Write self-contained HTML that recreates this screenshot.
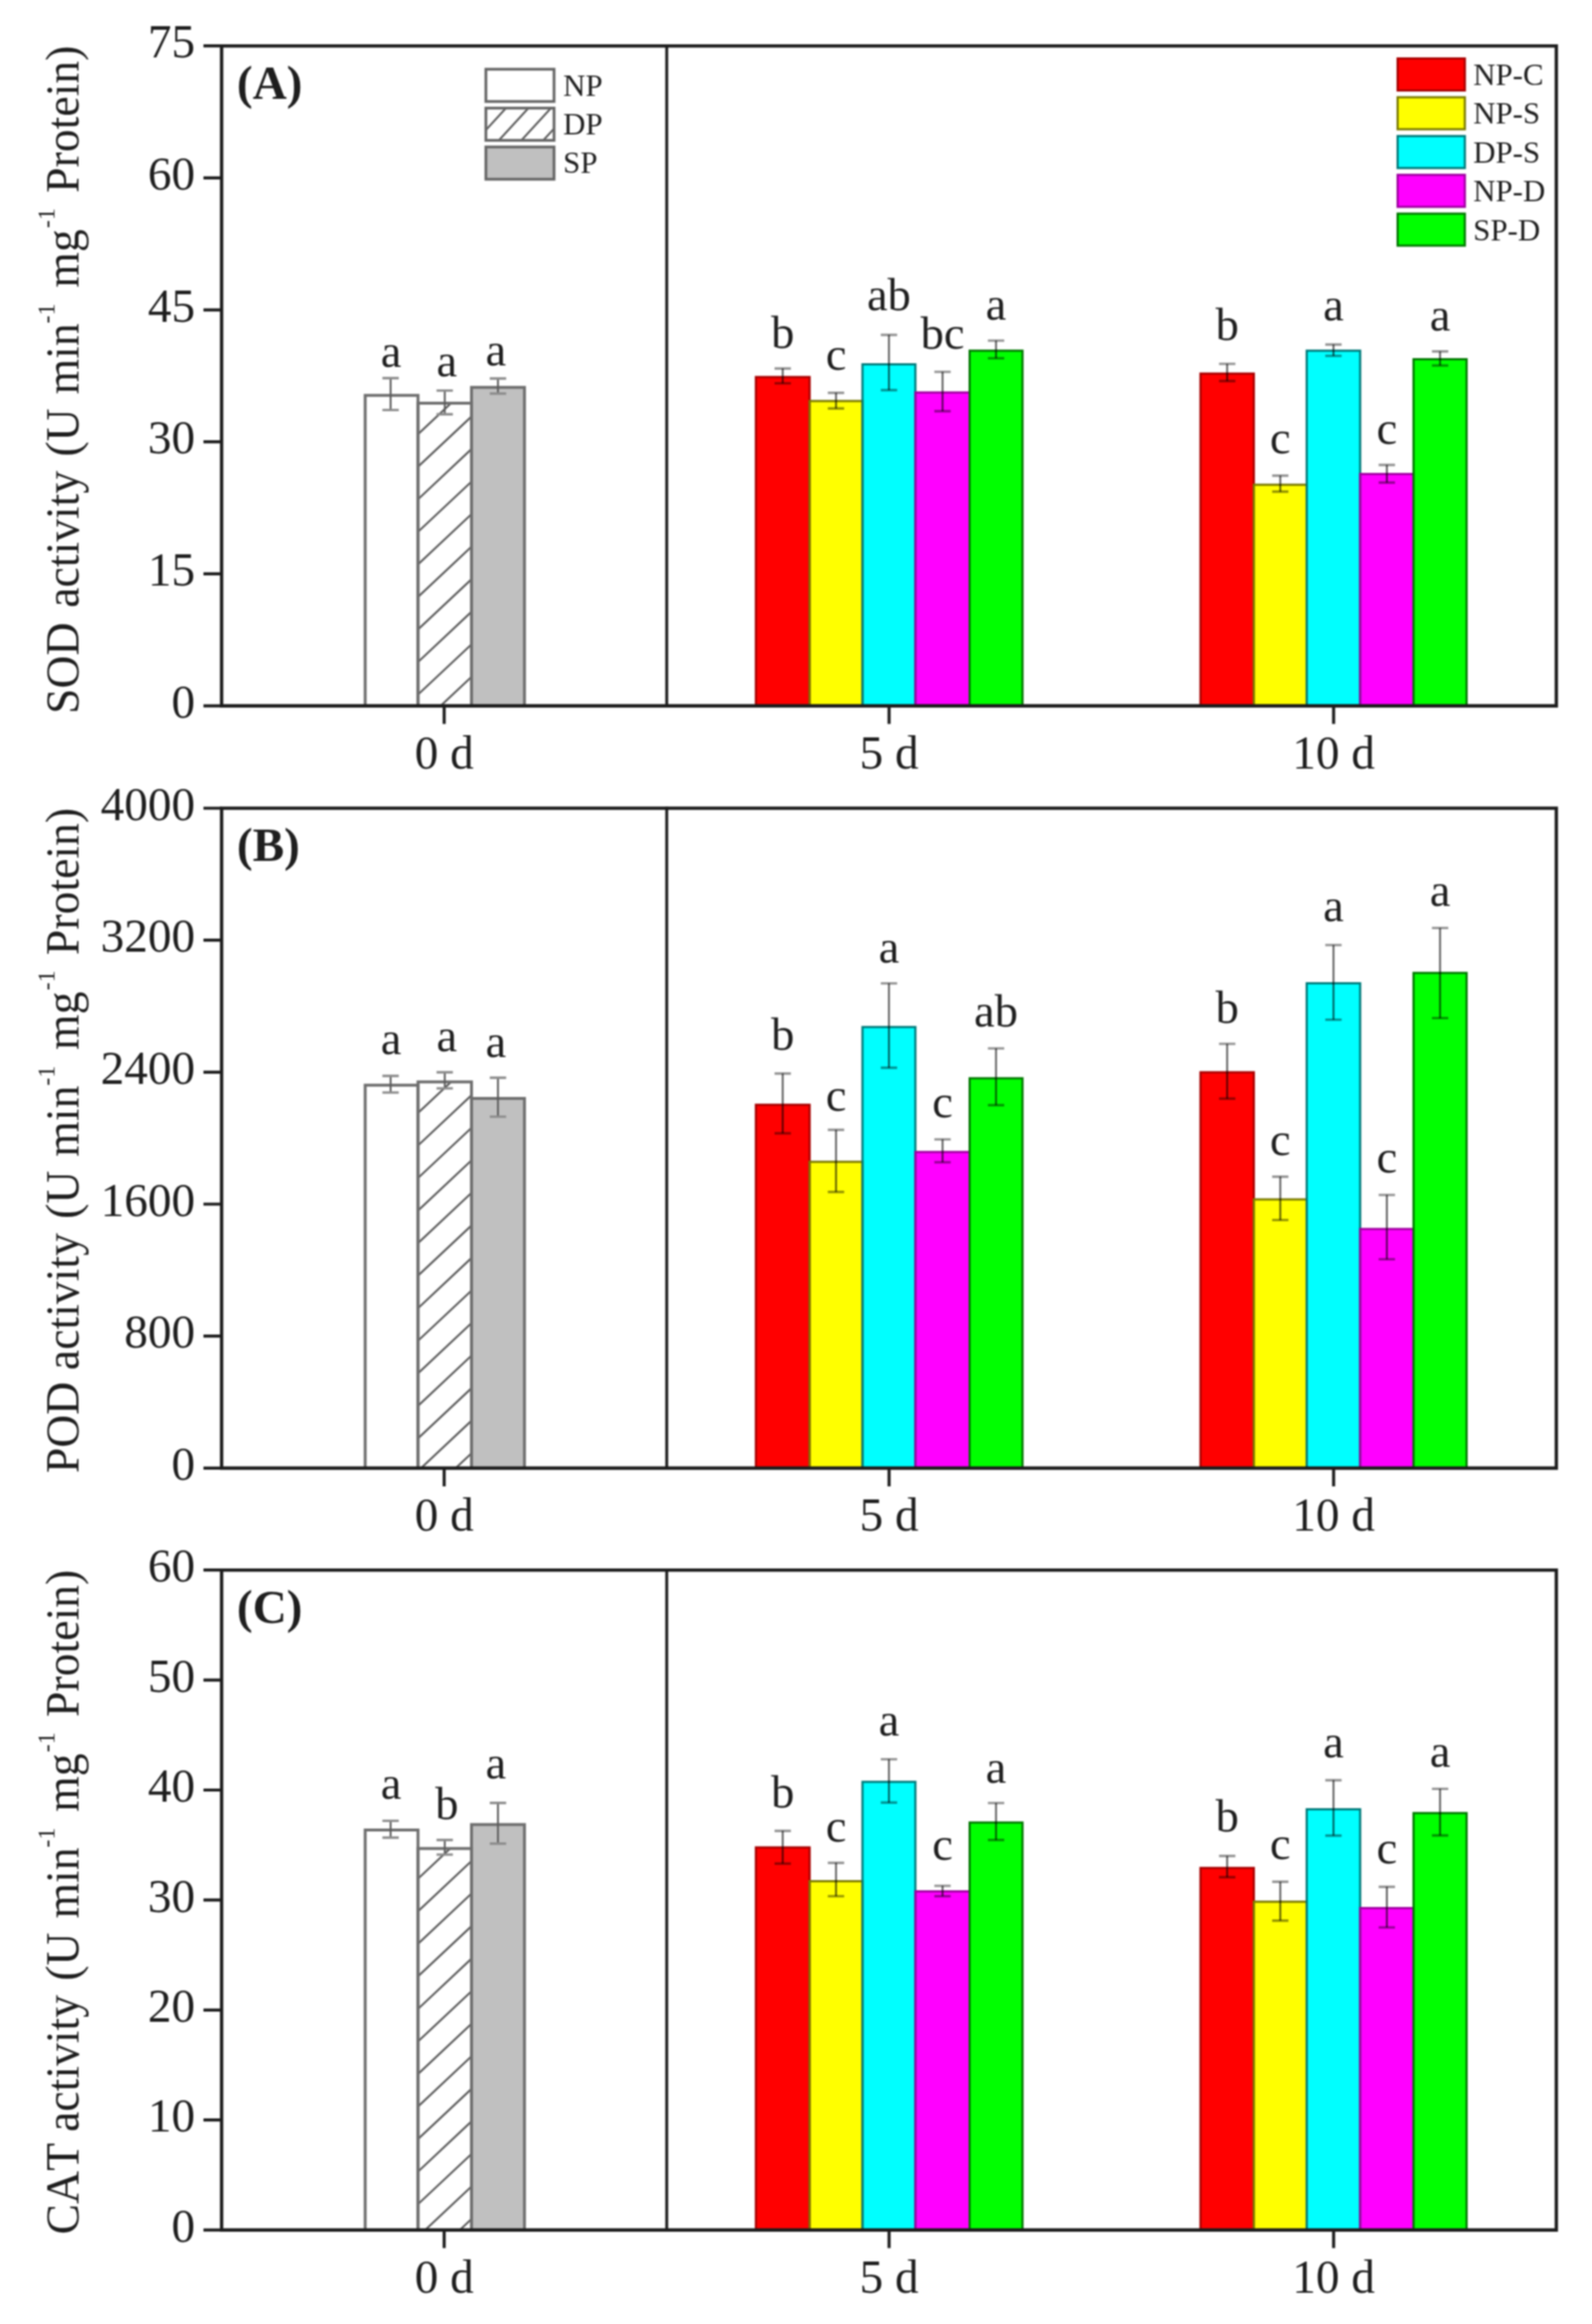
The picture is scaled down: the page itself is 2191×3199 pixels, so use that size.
<!DOCTYPE html>
<html lang="en"><head><meta charset="utf-8"><title>Antioxidant enzyme activities</title>
<style>html,body{margin:0;padding:0;background:#fff}svg{display:block;filter:blur(0.8px)}text{font-family:"Liberation Serif","Times New Roman",serif;fill:#1e1e1e;font-kerning:none}</style>
</head><body>
<svg width="2191" height="3199" viewBox="0 0 2191 3199">
<rect width="2191" height="3199" fill="#fff"/>
<g font-size="65">
<clipPath id="hc0"><rect x="575.3" y="555.1" width="73.6" height="416.5"/></clipPath>
<rect x="502.6" y="544.3" width="72.7" height="427.3" fill="#ffffff"/>
<rect x="575.3" y="555.1" width="73.6" height="416.5" fill="#ffffff"/>
<rect x="648.9" y="533.2" width="72.9" height="438.4" fill="#c0c0c0"/>
<path clip-path="url(#hc0)" d="M575.3 508.1L648.9 438.9M575.3 552.9L648.9 483.7M575.3 597.7L648.9 528.5M575.3 642.5L648.9 573.3M575.3 687.3L648.9 618.1M575.3 732.1L648.9 662.9M575.3 776.9L648.9 707.7M575.3 821.7L648.9 752.5M575.3 866.5L648.9 797.3M575.3 911.3L648.9 842.1M575.3 956.1L648.9 886.9M575.3 1000.9L648.9 931.7M575.3 1045.7L648.9 976.5" stroke="#5e5e5e" stroke-width="2.8" fill="none"/>
<path d="M502.6 971.6V544.3H575.3V971.6" stroke="#6e6e6e" stroke-width="4" fill="none"/>
<path d="M575.3 971.6V555.1H648.9V971.6" stroke="#6e6e6e" stroke-width="4" fill="none"/>
<path d="M648.9 971.6V533.2H721.8V971.6" stroke="#6e6e6e" stroke-width="4" fill="none"/>
<rect x="1040.3" y="518.9" width="73.9" height="452.7" fill="#ff0000"/>
<rect x="1114.2" y="551.9" width="72.8" height="419.7" fill="#ffff00"/>
<rect x="1187" y="501.6" width="72.8" height="470" fill="#00ffff"/>
<rect x="1259.8" y="540.3" width="74.7" height="431.3" fill="#ff00ff"/>
<rect x="1334.5" y="482.8" width="72.7" height="488.8" fill="#00ff00"/>
<path d="M1040.3 971.6V518.9H1114.2V971.6" stroke="#a80000" stroke-width="3" fill="none"/>
<path d="M1114.2 971.6V551.9H1187V971.6" stroke="#7a7a00" stroke-width="3" fill="none"/>
<path d="M1187 971.6V501.6H1259.8V971.6" stroke="#007a7a" stroke-width="3" fill="none"/>
<path d="M1259.8 971.6V540.3H1334.5V971.6" stroke="#a000a0" stroke-width="3" fill="none"/>
<path d="M1334.5 971.6V482.8H1407.2V971.6" stroke="#007800" stroke-width="3" fill="none"/>
<rect x="1652.2" y="514.2" width="73.4" height="457.4" fill="#ff0000"/>
<rect x="1725.6" y="667.2" width="72.8" height="304.4" fill="#ffff00"/>
<rect x="1798.4" y="482.8" width="73.5" height="488.8" fill="#00ffff"/>
<rect x="1871.9" y="652.4" width="73.5" height="319.2" fill="#ff00ff"/>
<rect x="1945.4" y="494.4" width="73" height="477.2" fill="#00ff00"/>
<path d="M1652.2 971.6V514.2H1725.6V971.6" stroke="#a80000" stroke-width="3" fill="none"/>
<path d="M1725.6 971.6V667.2H1798.4V971.6" stroke="#7a7a00" stroke-width="3" fill="none"/>
<path d="M1798.4 971.6V482.8H1871.9V971.6" stroke="#007a7a" stroke-width="3" fill="none"/>
<path d="M1871.9 971.6V652.4H1945.4V971.6" stroke="#a000a0" stroke-width="3" fill="none"/>
<path d="M1945.4 971.6V494.4H2018.4V971.6" stroke="#007800" stroke-width="3" fill="none"/>
<path d="M537.6 520.5V564.4" stroke="#5c5c5c" stroke-width="2.6" fill="none"/>
<path d="M526.3 520.5H548.8M526.3 564.4H548.8" stroke="#8c8c8c" stroke-width="3.4" fill="none"/>
<text x="538.1" y="505.4" text-anchor="middle" font-size="64">a</text>
<path d="M612.1 537.6V570.2" stroke="#5c5c5c" stroke-width="2.6" fill="none"/>
<path d="M600.8 537.6H623.3M600.8 570.2H623.3" stroke="#8c8c8c" stroke-width="3.4" fill="none"/>
<text x="614.9" y="518" text-anchor="middle" font-size="64">a</text>
<path d="M685.3 521V541.8" stroke="#5c5c5c" stroke-width="2.6" fill="none"/>
<path d="M674.1 521H696.6M674.1 541.8H696.6" stroke="#8c8c8c" stroke-width="3.4" fill="none"/>
<text x="682.5" y="503.4" text-anchor="middle" font-size="64">a</text>
<path d="M1077.2 507.2V527.6" stroke="#000" stroke-opacity="0.62" stroke-width="2.6" fill="none"/>
<path d="M1066 507.2H1088.5M1066 527.6H1088.5" stroke="#000" stroke-opacity="0.42" stroke-width="3.4" fill="none"/>
<text x="1077.2" y="478.9" text-anchor="middle" font-size="64">b</text>
<path d="M1150.6 540.8V562.2" stroke="#000" stroke-opacity="0.62" stroke-width="2.6" fill="none"/>
<path d="M1139.3 540.8H1161.8M1139.3 562.2H1161.8" stroke="#000" stroke-opacity="0.42" stroke-width="3.4" fill="none"/>
<text x="1150.6" y="508.8" text-anchor="middle" font-size="64">c</text>
<path d="M1223.4 461V537" stroke="#000" stroke-opacity="0.62" stroke-width="2.6" fill="none"/>
<path d="M1212.2 461H1234.7M1212.2 537H1234.7" stroke="#000" stroke-opacity="0.42" stroke-width="3.4" fill="none"/>
<text x="1223.4" y="427.1" text-anchor="middle" font-size="64">ab</text>
<path d="M1297.2 511.9V566" stroke="#000" stroke-opacity="0.62" stroke-width="2.6" fill="none"/>
<path d="M1285.9 511.9H1308.4M1285.9 566H1308.4" stroke="#000" stroke-opacity="0.42" stroke-width="3.4" fill="none"/>
<text x="1297.2" y="479.8" text-anchor="middle" font-size="64">bc</text>
<path d="M1370.8 468.9V493.1" stroke="#000" stroke-opacity="0.62" stroke-width="2.6" fill="none"/>
<path d="M1359.6 468.9H1382.1M1359.6 493.1H1382.1" stroke="#000" stroke-opacity="0.42" stroke-width="3.4" fill="none"/>
<text x="1370.8" y="439.7" text-anchor="middle" font-size="64">a</text>
<path d="M1688.9 500.9V524.5" stroke="#000" stroke-opacity="0.62" stroke-width="2.6" fill="none"/>
<path d="M1677.7 500.9H1700.2M1677.7 524.5H1700.2" stroke="#000" stroke-opacity="0.42" stroke-width="3.4" fill="none"/>
<text x="1688.9" y="467.9" text-anchor="middle" font-size="64">b</text>
<path d="M1762 654.8V676.8" stroke="#000" stroke-opacity="0.62" stroke-width="2.6" fill="none"/>
<path d="M1750.8 654.8H1773.2M1750.8 676.8H1773.2" stroke="#000" stroke-opacity="0.42" stroke-width="3.4" fill="none"/>
<text x="1762" y="624.4" text-anchor="middle" font-size="64">c</text>
<path d="M1835.2 474.2V489.9" stroke="#000" stroke-opacity="0.62" stroke-width="2.6" fill="none"/>
<path d="M1823.9 474.2H1846.4M1823.9 489.9H1846.4" stroke="#000" stroke-opacity="0.42" stroke-width="3.4" fill="none"/>
<text x="1835.2" y="441.2" text-anchor="middle" font-size="64">a</text>
<path d="M1908.7 640V664.3" stroke="#000" stroke-opacity="0.62" stroke-width="2.6" fill="none"/>
<path d="M1897.4 640H1919.9M1897.4 664.3H1919.9" stroke="#000" stroke-opacity="0.42" stroke-width="3.4" fill="none"/>
<text x="1908.7" y="610.9" text-anchor="middle" font-size="64">c</text>
<path d="M1981.9 483.7V503.1" stroke="#000" stroke-opacity="0.62" stroke-width="2.6" fill="none"/>
<path d="M1970.7 483.7H1993.2M1970.7 503.1H1993.2" stroke="#000" stroke-opacity="0.42" stroke-width="3.4" fill="none"/>
<text x="1981.9" y="455.4" text-anchor="middle" font-size="64">a</text>
<path d="M305 63.2H2141.9V971.6H305Z" stroke="#1c1c1c" stroke-width="4.6" fill="none" stroke-linejoin="miter"/>
<path d="M917.6 61.2V971.6" stroke="#1c1c1c" stroke-width="4" fill="none"/>
<text x="268.5" y="987.8" text-anchor="end">0</text>
<text x="268.5" y="806.1" text-anchor="end">15</text>
<text x="268.5" y="624.4" text-anchor="end">30</text>
<text x="268.5" y="442.8" text-anchor="end">45</text>
<text x="268.5" y="261.1" text-anchor="end">60</text>
<text x="268.5" y="79.4" text-anchor="end">75</text>
<path d="M280 971.6H305M280 789.9H305M280 608.2H305M280 426.6H305M280 244.9H305M280 63.2H305M611.3 971.6V996.6M1223.6 971.6V996.6M1835.4 971.6V996.6" stroke="#1c1c1c" stroke-width="4.2" fill="none"/>
<text x="611.3" y="1057.6" text-anchor="middle">0 d</text>
<text x="1223.6" y="1057.6" text-anchor="middle">5 d</text>
<text x="1835.4" y="1057.6" text-anchor="middle">10 d</text>
<text x="326" y="135.7" font-weight="bold">(A)</text>
<text transform="translate(108 979) rotate(-90) scale(0.968 1)" xml:space="preserve"><tspan x="-3.8" y="0">SOD</tspan> <tspan x="147.1" y="0">activity</tspan> <tspan x="362.2" y="0">(U</tspan> <tspan x="450.6" y="0">min</tspan> <tspan x="551.4" y="-33" font-size="34">-1</tspan> <tspan x="602.3" y="0">mg</tspan> <tspan x="687.1" y="-33" font-size="34">-1</tspan> <tspan x="737.2" y="0">Protein)</tspan></text>
</g>
<g font-size="65">
<clipPath id="hc1"><rect x="575.3" y="1489.3" width="73.6" height="531.6"/></clipPath>
<rect x="502.6" y="1493.8" width="72.7" height="527.1" fill="#ffffff"/>
<rect x="575.3" y="1489.3" width="73.6" height="531.6" fill="#ffffff"/>
<rect x="648.9" y="1511.9" width="72.9" height="509" fill="#c0c0c0"/>
<path clip-path="url(#hc1)" d="M575.3 1442.4L648.9 1373.2M575.3 1487.2L648.9 1418M575.3 1532L648.9 1462.8M575.3 1576.8L648.9 1507.6M575.3 1621.6L648.9 1552.4M575.3 1666.4L648.9 1597.2M575.3 1711.2L648.9 1642M575.3 1756L648.9 1686.8M575.3 1800.8L648.9 1731.6M575.3 1845.6L648.9 1776.4M575.3 1890.4L648.9 1821.2M575.3 1935.2L648.9 1866M575.3 1980L648.9 1910.8M575.3 2024.8L648.9 1955.6M575.3 2069.6L648.9 2000.4" stroke="#5e5e5e" stroke-width="2.8" fill="none"/>
<path d="M502.6 2020.9V1493.8H575.3V2020.9" stroke="#6e6e6e" stroke-width="4" fill="none"/>
<path d="M575.3 2020.9V1489.3H648.9V2020.9" stroke="#6e6e6e" stroke-width="4" fill="none"/>
<path d="M648.9 2020.9V1511.9H721.8V2020.9" stroke="#6e6e6e" stroke-width="4" fill="none"/>
<rect x="1040.3" y="1520.8" width="73.9" height="500.1" fill="#ff0000"/>
<rect x="1114.2" y="1599.3" width="72.8" height="421.6" fill="#ffff00"/>
<rect x="1187" y="1413.7" width="72.8" height="607.2" fill="#00ffff"/>
<rect x="1259.8" y="1585.8" width="74.7" height="435.1" fill="#ff00ff"/>
<rect x="1334.5" y="1484.3" width="72.7" height="536.6" fill="#00ff00"/>
<path d="M1040.3 2020.9V1520.8H1114.2V2020.9" stroke="#a80000" stroke-width="3" fill="none"/>
<path d="M1114.2 2020.9V1599.3H1187V2020.9" stroke="#7a7a00" stroke-width="3" fill="none"/>
<path d="M1187 2020.9V1413.7H1259.8V2020.9" stroke="#007a7a" stroke-width="3" fill="none"/>
<path d="M1259.8 2020.9V1585.8H1334.5V2020.9" stroke="#a000a0" stroke-width="3" fill="none"/>
<path d="M1334.5 2020.9V1484.3H1407.2V2020.9" stroke="#007800" stroke-width="3" fill="none"/>
<rect x="1652.2" y="1476" width="73.4" height="544.9" fill="#ff0000"/>
<rect x="1725.6" y="1650.9" width="72.8" height="370" fill="#ffff00"/>
<rect x="1798.4" y="1353.5" width="73.5" height="667.4" fill="#00ffff"/>
<rect x="1871.9" y="1691.7" width="73.5" height="329.2" fill="#ff00ff"/>
<rect x="1945.4" y="1339.3" width="73" height="681.6" fill="#00ff00"/>
<path d="M1652.2 2020.9V1476H1725.6V2020.9" stroke="#a80000" stroke-width="3" fill="none"/>
<path d="M1725.6 2020.9V1650.9H1798.4V2020.9" stroke="#7a7a00" stroke-width="3" fill="none"/>
<path d="M1798.4 2020.9V1353.5H1871.9V2020.9" stroke="#007a7a" stroke-width="3" fill="none"/>
<path d="M1871.9 2020.9V1691.7H1945.4V2020.9" stroke="#a000a0" stroke-width="3" fill="none"/>
<path d="M1945.4 2020.9V1339.3H2018.4V2020.9" stroke="#007800" stroke-width="3" fill="none"/>
<path d="M537.6 1481V1503.9" stroke="#5c5c5c" stroke-width="2.6" fill="none"/>
<path d="M526.3 1481H548.8M526.3 1503.9H548.8" stroke="#8c8c8c" stroke-width="3.4" fill="none"/>
<text x="538.1" y="1451.1" text-anchor="middle" font-size="64">a</text>
<path d="M612.1 1476V1498.1" stroke="#5c5c5c" stroke-width="2.6" fill="none"/>
<path d="M600.8 1476H623.3M600.8 1498.1H623.3" stroke="#8c8c8c" stroke-width="3.4" fill="none"/>
<text x="614.9" y="1447.3" text-anchor="middle" font-size="64">a</text>
<path d="M685.3 1483.5V1537.1" stroke="#5c5c5c" stroke-width="2.6" fill="none"/>
<path d="M674.1 1483.5H696.6M674.1 1537.1H696.6" stroke="#8c8c8c" stroke-width="3.4" fill="none"/>
<text x="682.5" y="1454.6" text-anchor="middle" font-size="64">a</text>
<path d="M1077.2 1477.7V1560" stroke="#000" stroke-opacity="0.62" stroke-width="2.6" fill="none"/>
<path d="M1066 1477.7H1088.5M1066 1560H1088.5" stroke="#000" stroke-opacity="0.42" stroke-width="3.4" fill="none"/>
<text x="1077.2" y="1445.3" text-anchor="middle" font-size="64">b</text>
<path d="M1150.6 1555.3V1640.7" stroke="#000" stroke-opacity="0.62" stroke-width="2.6" fill="none"/>
<path d="M1139.3 1555.3H1161.8M1139.3 1640.7H1161.8" stroke="#000" stroke-opacity="0.42" stroke-width="3.4" fill="none"/>
<text x="1150.6" y="1528.6" text-anchor="middle" font-size="64">c</text>
<path d="M1223.4 1353.6V1469.8" stroke="#000" stroke-opacity="0.62" stroke-width="2.6" fill="none"/>
<path d="M1212.2 1353.6H1234.7M1212.2 1469.8H1234.7" stroke="#000" stroke-opacity="0.42" stroke-width="3.4" fill="none"/>
<text x="1223.4" y="1325" text-anchor="middle" font-size="64">a</text>
<path d="M1297.2 1568.4V1599.9" stroke="#000" stroke-opacity="0.62" stroke-width="2.6" fill="none"/>
<path d="M1285.9 1568.4H1308.4M1285.9 1599.9H1308.4" stroke="#000" stroke-opacity="0.42" stroke-width="3.4" fill="none"/>
<text x="1297.2" y="1538" text-anchor="middle" font-size="64">c</text>
<path d="M1370.8 1443.1V1521.3" stroke="#000" stroke-opacity="0.62" stroke-width="2.6" fill="none"/>
<path d="M1359.6 1443.1H1382.1M1359.6 1521.3H1382.1" stroke="#000" stroke-opacity="0.42" stroke-width="3.4" fill="none"/>
<text x="1370.8" y="1413" text-anchor="middle" font-size="64">ab</text>
<path d="M1688.9 1436.9V1512.3" stroke="#000" stroke-opacity="0.62" stroke-width="2.6" fill="none"/>
<path d="M1677.7 1436.9H1700.2M1677.7 1512.3H1700.2" stroke="#000" stroke-opacity="0.42" stroke-width="3.4" fill="none"/>
<text x="1688.9" y="1407.7" text-anchor="middle" font-size="64">b</text>
<path d="M1762 1619.7V1679.4" stroke="#000" stroke-opacity="0.62" stroke-width="2.6" fill="none"/>
<path d="M1750.8 1619.7H1773.2M1750.8 1679.4H1773.2" stroke="#000" stroke-opacity="0.42" stroke-width="3.4" fill="none"/>
<text x="1762" y="1589.9" text-anchor="middle" font-size="64">c</text>
<path d="M1835.2 1300.9V1403.6" stroke="#000" stroke-opacity="0.62" stroke-width="2.6" fill="none"/>
<path d="M1823.9 1300.9H1846.4M1823.9 1403.6H1846.4" stroke="#000" stroke-opacity="0.42" stroke-width="3.4" fill="none"/>
<text x="1835.2" y="1267.9" text-anchor="middle" font-size="64">a</text>
<path d="M1908.7 1644.9V1733.4" stroke="#000" stroke-opacity="0.62" stroke-width="2.6" fill="none"/>
<path d="M1897.4 1644.9H1919.9M1897.4 1733.4H1919.9" stroke="#000" stroke-opacity="0.42" stroke-width="3.4" fill="none"/>
<text x="1908.7" y="1613.5" text-anchor="middle" font-size="64">c</text>
<path d="M1981.9 1277.4V1401.4" stroke="#000" stroke-opacity="0.62" stroke-width="2.6" fill="none"/>
<path d="M1970.7 1277.4H1993.2M1970.7 1401.4H1993.2" stroke="#000" stroke-opacity="0.42" stroke-width="3.4" fill="none"/>
<text x="1981.9" y="1246.6" text-anchor="middle" font-size="64">a</text>
<path d="M305 1112.5H2141.9V2020.9H305Z" stroke="#1c1c1c" stroke-width="4.6" fill="none" stroke-linejoin="miter"/>
<path d="M917.6 1110.5V2020.9" stroke="#1c1c1c" stroke-width="4" fill="none"/>
<text x="268.5" y="2037.1" text-anchor="end">0</text>
<text x="268.5" y="1855.4" text-anchor="end">800</text>
<text x="268.5" y="1673.7" text-anchor="end">1600</text>
<text x="268.5" y="1492.1" text-anchor="end">2400</text>
<text x="268.5" y="1310.4" text-anchor="end">3200</text>
<text x="268.5" y="1128.7" text-anchor="end">4000</text>
<path d="M280 2020.9H305M280 1839.2H305M280 1657.5H305M280 1475.9H305M280 1294.2H305M280 1112.5H305M611.3 2020.9V2045.9M1223.6 2020.9V2045.9M1835.4 2020.9V2045.9" stroke="#1c1c1c" stroke-width="4.2" fill="none"/>
<text x="611.3" y="2106.9" text-anchor="middle">0 d</text>
<text x="1223.6" y="2106.9" text-anchor="middle">5 d</text>
<text x="1835.4" y="2106.9" text-anchor="middle">10 d</text>
<text x="326" y="1185" font-weight="bold">(B)</text>
<text transform="translate(108 2028.3) rotate(-90) scale(0.968 1)" xml:space="preserve"><tspan x="0.5" y="0">POD</tspan> <tspan x="147.1" y="0">activity</tspan> <tspan x="362.2" y="0">(U</tspan> <tspan x="450.6" y="0">min</tspan> <tspan x="551.4" y="-33" font-size="34">-1</tspan> <tspan x="602.3" y="0">mg</tspan> <tspan x="687.1" y="-33" font-size="34">-1</tspan> <tspan x="737.2" y="0">Protein)</tspan></text>
</g>
<g font-size="65">
<clipPath id="hc2"><rect x="575.3" y="2544.5" width="73.6" height="525.1"/></clipPath>
<rect x="502.6" y="2518.9" width="72.7" height="550.7" fill="#ffffff"/>
<rect x="575.3" y="2544.5" width="73.6" height="525.1" fill="#ffffff"/>
<rect x="648.9" y="2511.4" width="72.9" height="558.2" fill="#c0c0c0"/>
<path clip-path="url(#hc2)" d="M575.3 2496.5L648.9 2427.3M575.3 2541.3L648.9 2472.1M575.3 2586.1L648.9 2516.9M575.3 2630.9L648.9 2561.7M575.3 2675.7L648.9 2606.5M575.3 2720.5L648.9 2651.3M575.3 2765.3L648.9 2696.1M575.3 2810.1L648.9 2740.9M575.3 2854.9L648.9 2785.7M575.3 2899.7L648.9 2830.5M575.3 2944.5L648.9 2875.3M575.3 2989.3L648.9 2920.1M575.3 3034.1L648.9 2964.9M575.3 3078.9L648.9 3009.7M575.3 3123.7L648.9 3054.5" stroke="#5e5e5e" stroke-width="2.8" fill="none"/>
<path d="M502.6 3069.6V2518.9H575.3V3069.6" stroke="#6e6e6e" stroke-width="4" fill="none"/>
<path d="M575.3 3069.6V2544.5H648.9V3069.6" stroke="#6e6e6e" stroke-width="4" fill="none"/>
<path d="M648.9 3069.6V2511.4H721.8V3069.6" stroke="#6e6e6e" stroke-width="4" fill="none"/>
<rect x="1040.3" y="2542.9" width="73.9" height="526.7" fill="#ff0000"/>
<rect x="1114.2" y="2589.4" width="72.8" height="480.2" fill="#ffff00"/>
<rect x="1187" y="2452.8" width="72.8" height="616.8" fill="#00ffff"/>
<rect x="1259.8" y="2603.6" width="74.7" height="466" fill="#ff00ff"/>
<rect x="1334.5" y="2508.7" width="72.7" height="560.9" fill="#00ff00"/>
<path d="M1040.3 3069.6V2542.9H1114.2V3069.6" stroke="#a80000" stroke-width="3" fill="none"/>
<path d="M1114.2 3069.6V2589.4H1187V3069.6" stroke="#7a7a00" stroke-width="3" fill="none"/>
<path d="M1187 3069.6V2452.8H1259.8V3069.6" stroke="#007a7a" stroke-width="3" fill="none"/>
<path d="M1259.8 3069.6V2603.6H1334.5V3069.6" stroke="#a000a0" stroke-width="3" fill="none"/>
<path d="M1334.5 3069.6V2508.7H1407.2V3069.6" stroke="#007800" stroke-width="3" fill="none"/>
<rect x="1652.2" y="2571.2" width="73.4" height="498.4" fill="#ff0000"/>
<rect x="1725.6" y="2617.7" width="72.8" height="451.9" fill="#ffff00"/>
<rect x="1798.4" y="2490.5" width="73.5" height="579.1" fill="#00ffff"/>
<rect x="1871.9" y="2626.5" width="73.5" height="443.1" fill="#ff00ff"/>
<rect x="1945.4" y="2495.8" width="73" height="573.8" fill="#00ff00"/>
<path d="M1652.2 3069.6V2571.2H1725.6V3069.6" stroke="#a80000" stroke-width="3" fill="none"/>
<path d="M1725.6 3069.6V2617.7H1798.4V3069.6" stroke="#7a7a00" stroke-width="3" fill="none"/>
<path d="M1798.4 3069.6V2490.5H1871.9V3069.6" stroke="#007a7a" stroke-width="3" fill="none"/>
<path d="M1871.9 3069.6V2626.5H1945.4V3069.6" stroke="#a000a0" stroke-width="3" fill="none"/>
<path d="M1945.4 3069.6V2495.8H2018.4V3069.6" stroke="#007800" stroke-width="3" fill="none"/>
<path d="M537.6 2506.4V2529.5" stroke="#5c5c5c" stroke-width="2.6" fill="none"/>
<path d="M526.3 2506.4H548.8M526.3 2529.5H548.8" stroke="#8c8c8c" stroke-width="3.4" fill="none"/>
<text x="538.1" y="2476" text-anchor="middle" font-size="64">a</text>
<path d="M612.1 2532.8V2552.9" stroke="#5c5c5c" stroke-width="2.6" fill="none"/>
<path d="M600.8 2532.8H623.3M600.8 2552.9H623.3" stroke="#8c8c8c" stroke-width="3.4" fill="none"/>
<text x="614.9" y="2504.4" text-anchor="middle" font-size="64">b</text>
<path d="M685.3 2481.8V2537.8" stroke="#5c5c5c" stroke-width="2.6" fill="none"/>
<path d="M674.1 2481.8H696.6M674.1 2537.8H696.6" stroke="#8c8c8c" stroke-width="3.4" fill="none"/>
<text x="682.5" y="2448.4" text-anchor="middle" font-size="64">a</text>
<path d="M1077.2 2520.2V2565.2" stroke="#000" stroke-opacity="0.62" stroke-width="2.6" fill="none"/>
<path d="M1066 2520.2H1088.5M1066 2565.2H1088.5" stroke="#000" stroke-opacity="0.42" stroke-width="3.4" fill="none"/>
<text x="1077.2" y="2488.2" text-anchor="middle" font-size="64">b</text>
<path d="M1150.6 2564.2V2610.1" stroke="#000" stroke-opacity="0.62" stroke-width="2.6" fill="none"/>
<path d="M1139.3 2564.2H1161.8M1139.3 2610.1H1161.8" stroke="#000" stroke-opacity="0.42" stroke-width="3.4" fill="none"/>
<text x="1150.6" y="2535.3" text-anchor="middle" font-size="64">c</text>
<path d="M1223.4 2421.6V2481.3" stroke="#000" stroke-opacity="0.62" stroke-width="2.6" fill="none"/>
<path d="M1212.2 2421.6H1234.7M1212.2 2481.3H1234.7" stroke="#000" stroke-opacity="0.42" stroke-width="3.4" fill="none"/>
<text x="1223.4" y="2389.3" text-anchor="middle" font-size="64">a</text>
<path d="M1297.2 2595.9V2610.1" stroke="#000" stroke-opacity="0.62" stroke-width="2.6" fill="none"/>
<path d="M1285.9 2595.9H1308.4M1285.9 2610.1H1308.4" stroke="#000" stroke-opacity="0.42" stroke-width="3.4" fill="none"/>
<text x="1297.2" y="2560.4" text-anchor="middle" font-size="64">c</text>
<path d="M1370.8 2481.9V2532.8" stroke="#000" stroke-opacity="0.62" stroke-width="2.6" fill="none"/>
<path d="M1359.6 2481.9H1382.1M1359.6 2532.8H1382.1" stroke="#000" stroke-opacity="0.42" stroke-width="3.4" fill="none"/>
<text x="1370.8" y="2453.7" text-anchor="middle" font-size="64">a</text>
<path d="M1688.9 2554.8V2584" stroke="#000" stroke-opacity="0.62" stroke-width="2.6" fill="none"/>
<path d="M1677.7 2554.8H1700.2M1677.7 2584H1700.2" stroke="#000" stroke-opacity="0.42" stroke-width="3.4" fill="none"/>
<text x="1688.9" y="2521.2" text-anchor="middle" font-size="64">b</text>
<path d="M1762 2590.3V2643.7" stroke="#000" stroke-opacity="0.62" stroke-width="2.6" fill="none"/>
<path d="M1750.8 2590.3H1773.2M1750.8 2643.7H1773.2" stroke="#000" stroke-opacity="0.42" stroke-width="3.4" fill="none"/>
<text x="1762" y="2558.9" text-anchor="middle" font-size="64">c</text>
<path d="M1835.2 2450.5V2526.8" stroke="#000" stroke-opacity="0.62" stroke-width="2.6" fill="none"/>
<path d="M1823.9 2450.5H1846.4M1823.9 2526.8H1846.4" stroke="#000" stroke-opacity="0.42" stroke-width="3.4" fill="none"/>
<text x="1835.2" y="2418.5" text-anchor="middle" font-size="64">a</text>
<path d="M1908.7 2597.2V2653.1" stroke="#000" stroke-opacity="0.62" stroke-width="2.6" fill="none"/>
<path d="M1897.4 2597.2H1919.9M1897.4 2653.1H1919.9" stroke="#000" stroke-opacity="0.42" stroke-width="3.4" fill="none"/>
<text x="1908.7" y="2565.2" text-anchor="middle" font-size="64">c</text>
<path d="M1981.9 2462.4V2526.5" stroke="#000" stroke-opacity="0.62" stroke-width="2.6" fill="none"/>
<path d="M1970.7 2462.4H1993.2M1970.7 2526.5H1993.2" stroke="#000" stroke-opacity="0.42" stroke-width="3.4" fill="none"/>
<text x="1981.9" y="2432.3" text-anchor="middle" font-size="64">a</text>
<path d="M305 2161.2H2141.9V3069.6H305Z" stroke="#1c1c1c" stroke-width="4.6" fill="none" stroke-linejoin="miter"/>
<path d="M917.6 2159.2V3069.6" stroke="#1c1c1c" stroke-width="4" fill="none"/>
<text x="268.5" y="3085.8" text-anchor="end">0</text>
<text x="268.5" y="2934.4" text-anchor="end">10</text>
<text x="268.5" y="2783" text-anchor="end">20</text>
<text x="268.5" y="2631.6" text-anchor="end">30</text>
<text x="268.5" y="2480.2" text-anchor="end">40</text>
<text x="268.5" y="2328.8" text-anchor="end">50</text>
<text x="268.5" y="2177.4" text-anchor="end">60</text>
<path d="M280 3069.6H305M280 2918.2H305M280 2766.8H305M280 2615.4H305M280 2464H305M280 2312.6H305M280 2161.2H305M611.3 3069.6V3094.6M1223.6 3069.6V3094.6M1835.4 3069.6V3094.6" stroke="#1c1c1c" stroke-width="4.2" fill="none"/>
<text x="611.3" y="3155.6" text-anchor="middle">0 d</text>
<text x="1223.6" y="3155.6" text-anchor="middle">5 d</text>
<text x="1835.4" y="3155.6" text-anchor="middle">10 d</text>
<text x="326" y="2233.7" font-weight="bold">(C)</text>
<text transform="translate(108 3077) rotate(-90) scale(0.968 1)" xml:space="preserve"><tspan x="1.4" y="0">CAT</tspan> <tspan x="147.1" y="0">activity</tspan> <tspan x="362.2" y="0">(U</tspan> <tspan x="450.6" y="0">min</tspan> <tspan x="551.4" y="-33" font-size="34">-1</tspan> <tspan x="602.3" y="0">mg</tspan> <tspan x="687.1" y="-33" font-size="34">-1</tspan> <tspan x="737.2" y="0">Protein)</tspan></text>
</g>
<g font-size="42.5">
<rect x="668.7" y="95.3" width="93.8" height="44.4" fill="#fff"/>
<rect x="668.7" y="95.3" width="93.8" height="44.4" fill="none" stroke="#666" stroke-width="3.8"/>
<text x="775" y="131.8">NP</text>
<rect x="668.7" y="148.8" width="93.8" height="44.4" fill="#fff"/>
<clipPath id="lc"><rect x="668.7" y="148.8" width="93.8" height="44.4"/></clipPath>
<path clip-path="url(#lc)" d="M622.8 195.2L667.2 146.8M653.8 195.2L698.2 146.8M684.7 195.2L729.1 146.8M715.7 195.2L760.1 146.8M745.8 195.2L790.2 146.8" stroke="#5e5e5e" stroke-width="2.8" fill="none"/>
<rect x="668.7" y="148.8" width="93.8" height="44.4" fill="none" stroke="#666" stroke-width="3.8"/>
<text x="775" y="185.1">DP</text>
<rect x="668.7" y="202.3" width="93.8" height="44.4" fill="#c0c0c0"/>
<rect x="668.7" y="202.3" width="93.8" height="44.4" fill="none" stroke="#666" stroke-width="3.8"/>
<text x="775" y="238.4">SP</text>
<rect x="1923.5" y="80.5" width="92.5" height="44" fill="#ff0000" stroke="#a80000" stroke-width="3"/>
<text x="2027.5" y="117">NP-C</text>
<rect x="1923.5" y="133.9" width="92.5" height="44" fill="#ffff00" stroke="#7a7a00" stroke-width="3"/>
<text x="2027.5" y="170.4">NP-S</text>
<rect x="1923.5" y="187.3" width="92.5" height="44" fill="#00ffff" stroke="#007a7a" stroke-width="3"/>
<text x="2027.5" y="223.8">DP-S</text>
<rect x="1923.5" y="240.7" width="92.5" height="44" fill="#ff00ff" stroke="#a000a0" stroke-width="3"/>
<text x="2027.5" y="277.2">NP-D</text>
<rect x="1923.5" y="294.1" width="92.5" height="44" fill="#00ff00" stroke="#007800" stroke-width="3"/>
<text x="2027.5" y="330.6">SP-D</text>
</g>
</svg>
</body></html>
